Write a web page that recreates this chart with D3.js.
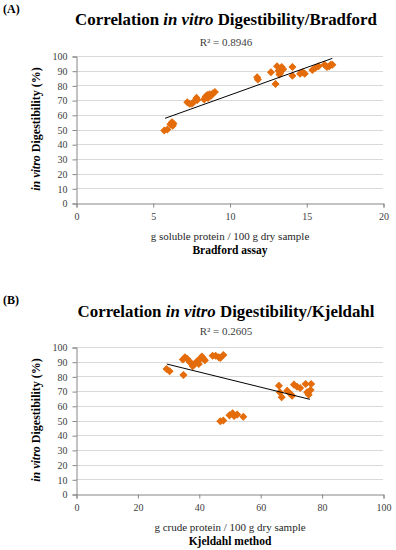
<!DOCTYPE html>
<html><head><meta charset="utf-8">
<script src="https://cdn.jsdelivr.net/npm/d3@7"></script>
<style>body{margin:0;background:#fff}svg{display:block}</style>
</head><body>
<svg id="c" width="396" height="550"></svg>
<script>
// Panel A: Bradford
const bradfordX = [5.75,5.95,6.15,6.25,6.35,6.3,7.25,7.4,7.55,7.7,7.85,7.9,8.35,8.45,8.55,8.6,8.7,8.8,8.9,9.05,11.8,11.85,12.7,13.0,13.1,13.2,13.3,13.4,13.5,13.25,14.1,14.1,14.6,14.75,14.9,15.4,15.6,15.8,16.2,16.35,16.5,16.6,16.7];
const bradfordY = [49.3,50,53.5,55,54,52.5,68.5,67.5,67.5,69,71.5,70,70.5,72.5,73.5,71.5,74,73,74.5,75.5,85.5,84,89,81,93,90,88.5,92.5,91,87.5,92.5,86.5,88,89,88,90.5,92,93,94,92.5,93,94,94];
const trendAX = [5.8,16.7];
const trendAY = [57.6,98.4];
const xTicksA = [0,5,10,15,20];

// Panel B: Kjeldahl
const kjeldahlX = [29.5,30.5,35,34.8,35.5,36.2,37,37.5,38,38.5,39.5,40,40.5,41,41.5,42,44.5,45.5,46.5,47,48,47,48,50,51,51.5,52.5,54.5,66.1,66.4,67,68.8,69.9,70.4,71,72,73,74.8,75.3,75.8,76.4,76.6];
const kjeldahlY = [85,83.5,81,91.5,93,92,90,89,87,88,90.5,88.5,92,93.5,92,91,94,94,93,92.5,94.5,49.5,50,53.5,55,53,54,52.5,73.7,69.2,65.8,70.3,68,66.9,74.4,73,72.1,74.8,69.2,67.6,70.7,74.8];
const trendBX = [29.6,76.2];
const trendBY = [88.4,64.4];
const xTicksB = [0,20,40,60,80,100];

const yTicks = [0,10,20,30,40,50,60,70,80,90,100];

const svg = d3.select("#c");
const serif = "Liberation Serif, Times New Roman, Tinos, serif";
const orange = "#E46C0A";

function panel(o){
  const g = svg.append("g");
  const x = d3.scaleLinear().domain(o.xDomain).range([76,383]);
  const y = d3.scaleLinear().domain([0,100]).range([o.bottom,o.bottom-147]);
  g.append("text").attr("x",3).attr("y",o.letterY).style("font-family",serif)
    .attr("font-weight","bold").attr("font-size",12).attr("fill","#000").text(o.letter);
  const t = g.append("text").attr("x",226).attr("y",o.titleY).attr("text-anchor","middle")
    .style("font-family",serif).attr("font-weight","bold").attr("font-size",17).attr("fill","#000");
  t.append("tspan").text("Correlation ");
  t.append("tspan").attr("font-style","italic").text("in vitro");
  t.append("tspan").text(" Digestibility/"+o.method);
  const w = t.node().getComputedTextLength();
  t.attr("font-size",17*o.titleW/w);
  g.append("text").attr("x",226).attr("y",o.r2Y).attr("text-anchor","middle")
    .style("font-family",serif).attr("font-size",11).attr("fill","#404040").text(o.r2);
  g.append("g").selectAll("line").data(yTicks.filter(d=>d>0)).join("line")
    .attr("x1",76).attr("x2",383).attr("y1",d=>Math.round(y(d))+0.5).attr("y2",d=>Math.round(y(d))+0.5)
    .attr("stroke","#d9d9d9").attr("stroke-width",1);
  const ya = g.append("g").attr("transform","translate(76.5,0.5)")
    .call(d3.axisLeft(y).tickValues(yTicks).tickSize(4).tickPadding(5).tickFormat(d3.format("d")));
  ya.select(".domain").attr("stroke","#868686");
  ya.selectAll(".tick line").attr("stroke","#868686");
  ya.selectAll("text").style("font-family",serif).attr("font-size",10).attr("fill","#404040");
  const xa = g.append("g").attr("transform",`translate(0.5,${Math.round(o.bottom)+0.5})`)
    .call(d3.axisBottom(x).tickValues(o.xTicks).tickSize(4).tickPadding(5).tickFormat(d3.format("d")));
  xa.select(".domain").attr("stroke","#868686");
  xa.selectAll(".tick line").attr("stroke","#868686");
  xa.selectAll("text").style("font-family",serif).attr("font-size",10).attr("fill","#404040");
  const yl = g.append("text").attr("transform",`translate(40,${o.bottom-74}) rotate(-90)`)
    .attr("text-anchor","middle").style("font-family",serif).attr("font-weight","bold")
    .attr("font-size",12).attr("fill","#000");
  yl.append("tspan").attr("font-style","italic").text("in vitro");
  yl.append("tspan").text(" Digestibility (%)");
  g.append("text").attr("x",230).attr("y",o.bottom+37).attr("text-anchor","middle")
    .style("font-family",serif).attr("font-size",11).attr("fill","#262626").text(o.xLabel);
  g.append("text").attr("x",230).attr("y",o.bottom+51).attr("text-anchor","middle")
    .style("font-family",serif).attr("font-weight","bold").attr("font-size",11.5).attr("fill","#000").text(o.xLabel2);
  const sym = d3.symbol().type(d3.symbolSquare).size(22);
  g.append("g").selectAll("path").data(o.xs.map((v,i)=>[v,o.ys[i]])).join("path")
    .attr("d",sym).attr("transform",d=>`translate(${x(d[0])},${y(d[1])}) rotate(45)`)
    .attr("fill",orange).attr("stroke",orange).attr("stroke-width",1);
  g.append("line").attr("x1",x(o.tx[0])).attr("x2",x(o.tx[1]))
    .attr("y1",y(o.ty[0])).attr("y2",y(o.ty[1])).attr("stroke","#000").attr("stroke-width",1);
}

panel({letter:"(A)",letterY:13,titleY:25,titleW:302,method:"Bradford",r2:"R² = 0.8946",r2Y:46,
  xDomain:[0,20],xTicks:xTicksA,bottom:203,xs:bradfordX,ys:bradfordY,tx:trendAX,ty:trendAY,
  xLabel:"g soluble protein / 100 g dry sample",xLabel2:"Bradford assay"});
panel({letter:"(B)",letterY:304,titleY:317,titleW:297,method:"Kjeldahl",r2:"R² = 0.2605",r2Y:335,
  xDomain:[0,100],xTicks:xTicksB,bottom:494,xs:kjeldahlX,ys:kjeldahlY,tx:trendBX,ty:trendBY,
  xLabel:"g crude protein / 100 g dry sample",xLabel2:"Kjeldahl method"});
</script>
</body></html>
